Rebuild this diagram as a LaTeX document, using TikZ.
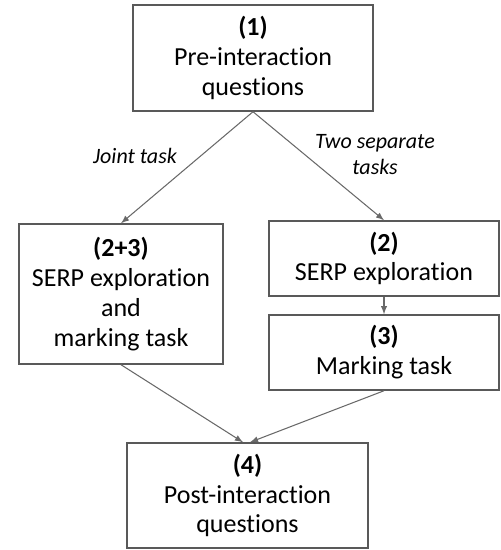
\documentclass[tikz,border=0pt]{standalone}
\usepackage{fontspec}
\setmainfont{Carlito}[Ligatures=NoCommon]
\usetikzlibrary{calc}

\definecolor{boxgray}{RGB}{89,89,89}
\definecolor{arrowgray}{RGB}{105,105,105}
\newcommand{\stagefont}{\fontsize{14.8}{17}\selectfont}
\newcommand{\branchfont}{\fontsize{12.5}{14.8}\selectfont}

\begin{document}
\begin{tikzpicture}
	  [
	    x                 = 0.02cm,
	    y                 = -0.02cm,
	    stage/.style      = {draw=boxgray, line width=0.85pt, align=center,
	                         font=\stagefont, inner sep=0pt},
	    flow/.style       = {draw=arrowgray, line width=0.6pt, -latex},
	    branch/.style     = {font=\branchfont\itshape, align=center}
	  ]
		\useasboundingbox (0,0) rectangle (500,550);

		% stages
		\node[stage, minimum width=4.8cm, minimum height=2.12cm] (pre) at (253,58)
			{\textbf{(1)}\\Pre-interaction\\questions};
		\node[stage, minimum width=4.08cm, minimum height=2.8cm] (joint) at (121,294)
			{\textbf{(2+3)}\\SERP exploration\\and\\marking task};
		\node[stage, minimum width=4.6cm, minimum height=1.5cm] (serp) at (384,258.5)
			{\textbf{(2)}\\SERP exploration};
		\node[stage, minimum width=4.6cm, minimum height=1.5cm] (mark) at (384,352.5)
			{\textbf{(3)}\\Marking task};
		\node[stage, minimum width=4.82cm, minimum height=2.1cm] (post) at (247.5,495.5)
			{\textbf{(4)}\\Post-interaction\\questions};

		% branch labels
		\node[branch] (jointlbl) at (135,156) {Joint task};
		\node[branch] (seplbl) at (375,155) {Two separate\\tasks};

		% connectors
		\draw[flow] (pre.south) -- (joint.north);
		\draw[flow] (pre.south) -- (serp.north);
		\draw[flow] (serp.south) -- (mark.north);
		\draw[flow] (joint.south) -- ([xshift=-0.09cm]post.north);
		\draw[flow] (mark.south) -- ([xshift=0.05cm]post.north);
\end{tikzpicture}
\end{document}
